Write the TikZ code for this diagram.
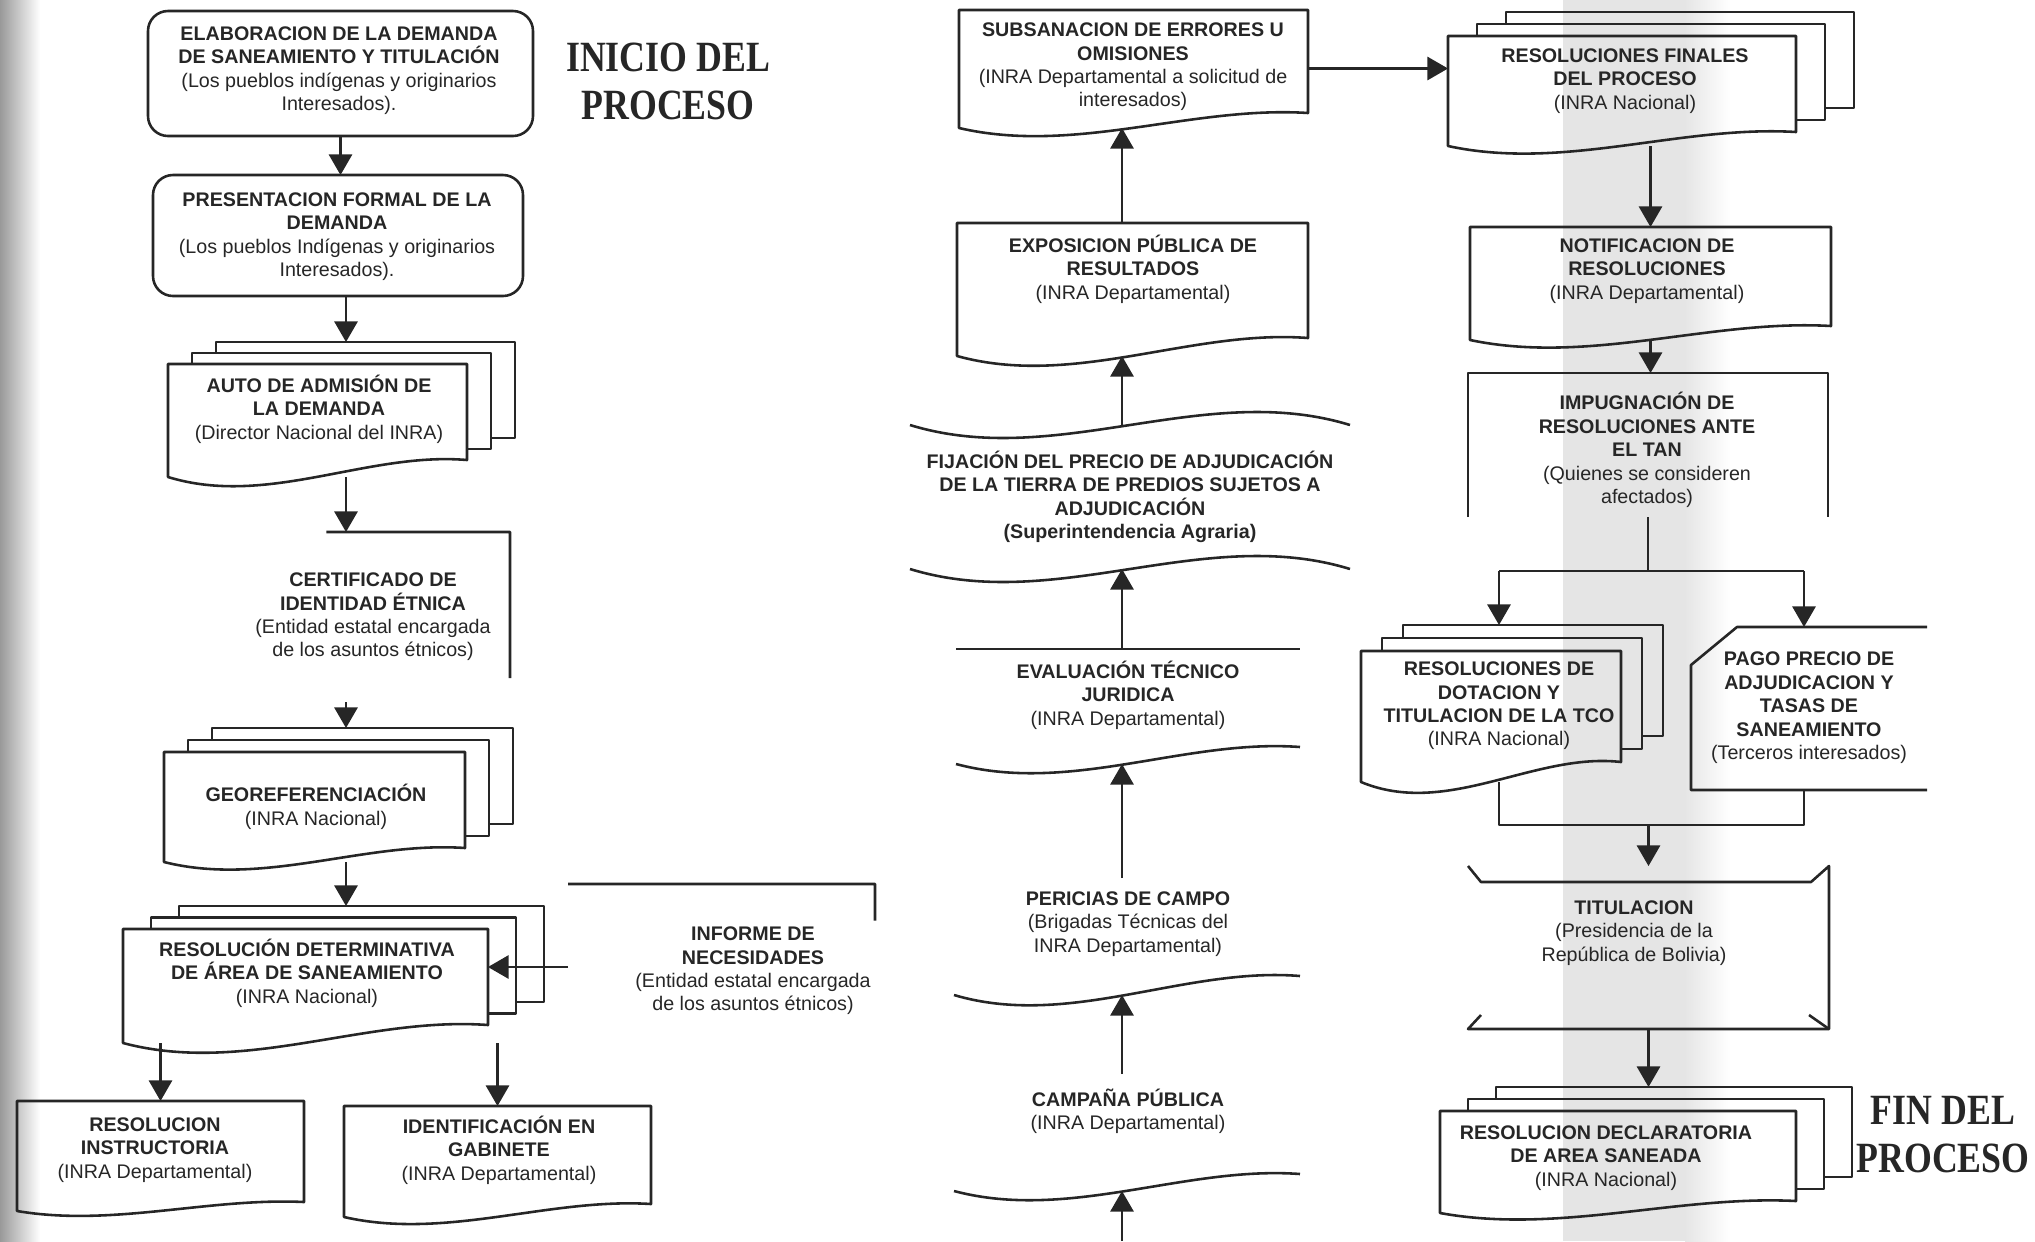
\documentclass[tikz,border=0pt]{standalone}
\usepackage{fontspec}
\setmainfont{Liberation Sans}
\newfontfamily\titlefont{Liberation Serif}
\usepackage{graphicx}
\usetikzlibrary{arrows.meta, calc}
\definecolor{inkgray}{RGB}{38,38,38}
\newcommand{\pu}{0.15mm}
\newcommand{\sq}[1]{\scalebox{0.83}[1]{#1}}
% document outline: straight top and sides, wavy bottom
\newcommand{\docline}[2]{%
  \draw[outl] (#1.south east) -- (#1.north east) -- (#1.north west) -- ($(#1.south west)+(0,#2)$)
    .. controls ($(#1.south west)!0.333!(#1.south east)+(0,{2.8*#2})$)
    and ($(#1.south west)!0.667!(#1.south east)+(0,{-0.5*#2})$) .. cycle;
  \coordinate (#1-b) at ($(#1.south)+(0,#2)$);
}
% only the wavy bottom of a document
\newcommand{\docwave}[2]{%
  \draw[outl] ($(#1.south west)+(0,#2)$)
    .. controls ($(#1.south west)!0.333!(#1.south east)+(0,{2.8*#2})$)
    and ($(#1.south west)!0.667!(#1.south east)+(0,{-0.5*#2})$) .. (#1.south east);
  \coordinate (#1-b) at ($(#1.south)+(0,#2)$);
}
% stacked documents
\newcommand{\multidoc}[4]{%
  \draw[outl] ($(#1.north west)+(#3,0)$) -- ($(#1.north west)+(#3,#4)$) -- ($(#1.north east)+(#3,#4)$)
    -- ($(#1.south east)+(#3,#4)$) -- ($(#1.south east)+(0,#4)$);
  \draw[outl] ($(#1.north west)+({2*#3},#4)$) -- ($(#1.north west)+({2*#3},{2*#4})$) -- ($(#1.north east)+({2*#3},{2*#4})$)
    -- ($(#1.south east)+({2*#3},{2*#4})$) -- ($(#1.south east)+(#3,{2*#4})$);
  \docline{#1}{#2}
  \coordinate (#1-top) at ($(#1.north)+(0,{2*#4})$);
}
% punched tape edge
\newcommand{\tapewave}[2]{%
  \draw[outl] (#1) .. controls ($(#1)!0.333!(#2)+(0,45)$) and ($(#1)!0.667!(#2)+(0,-45)$) .. (#2);
}

\begin{document}
\begin{tikzpicture}[x=\pu, y=-\pu,
  outl/.style={draw=inkgray, line width=1.1pt, line join=round},
  arr/.style={-{Triangle[length=3.1mm, width=3.5mm]}, draw=inkgray, line width=0.9pt},
  txt/.style={font=\fontsize{8.4}{10}\selectfont, align=center, inner sep=0pt, text=inkgray},
  ttl/.style={font=\titlefont\bfseries\fontsize{18.4}{20.5}\selectfont, align=center, inner sep=0pt, text=inkgray},
  shp/.style 2 args={minimum width=#1*\pu, minimum height=#2*\pu, inner sep=0pt, outer sep=0pt},
]
\useasboundingbox (0,0) rectangle (2035,1241);

%% scan shading
\shade[left color=black!40, right color=white] (0,0) rectangle (40,1241);
\fill[black!10] (1563,0) rectangle (1685,1241);
\shade[left color=black!10, right color=white] (1685,0) rectangle (1730,1241);

%% Left column
\node[shp={385}{125}, outl, rounded corners=3mm] (elab) at (340.5,73.5) {};
\node[txt] (elab-t) at (339,70.5) {\textbf{ELABORACION DE LA DEMANDA}\\\textbf{DE SANEAMIENTO Y TITULACIÓN}\\(Los pueblos indígenas y originarios\\Interesados).};
\node[ttl] (inicio) at (668,81) {\sq{INICIO DEL}\\\sq{PROCESO}};

\node[shp={370}{121}, outl, rounded corners=3mm] (pres) at (338,235.5) {};
\node[txt] (pres-t) at (337,236.5) {\textbf{PRESENTACION FORMAL DE LA}\\\textbf{DEMANDA}\\(Los pueblos Indígenas y originarios\\Interesados).};

\node[shp={299}{96}] (auto) at (317.5,412) {};
\multidoc{auto}{17}{24}{-11}
\node[txt] (auto-t) at (319,409) {\textbf{AUTO DE ADMISIÓN  DE}\\\textbf{LA DEMANDA}\\(Director Nacional del INRA)};

\node[shp={274}{170}] (cert) at (373,617) {};
\draw[outl] ($(cert.north west)!0.33!(cert.north east)$) -- (cert.north east) -- ($(cert.north east)!0.86!(cert.south east)$);
\node[txt] (cert-t) at (373,617) {\textbf{CERTIFICADO DE}\\\textbf{IDENTIDAD ÉTNICA}\\(Entidad estatal encargada\\de los asuntos étnicos)};

\node[shp={301}{96}] (geo) at (314.5,800) {};
\multidoc{geo}{14}{24}{-12}
\node[txt] (geo-t) at (316,807) {\textbf{GEOREFERENCIACIÓN}\\(INRA Nacional)};

\node[shp={365}{96}] (resdet) at (305.5,977) {};
\multidoc{resdet}{18}{28}{-11.5}
\node[txt] (resdet-t) at (307,973) {\textbf{RESOLUCIÓN DETERMINATIVA}\\\textbf{DE ÁREA DE SANEAMIENTO}\\(INRA Nacional)};

\node[shp={307}{166}] (informe) at (721.5,967) {};
\draw[outl] (informe.north west) -- (informe.north east) -- ($(informe.north east)!0.22!(informe.south east)$);
\node[txt] (informe-t) at (753,971) {\textbf{INFORME DE}\\\textbf{NECESIDADES}\\(Entidad estatal encargada\\de los asuntos étnicos)};

\node[shp={287}{101}] (resinst) at (160.5,1151.5) {};
\docline{resinst}{9}
\node[txt] (resinst-t) at (155,1150) {\textbf{RESOLUCION}\\\textbf{INSTRUCTORIA}\\(INRA Departamental)};

\node[shp={307}{98}] (idgab) at (497.5,1155) {};
\docline{idgab}{13}
\node[txt] (idgab-t) at (499,1150) {\textbf{IDENTIFICACIÓN EN}\\\textbf{GABINETE}\\(INRA Departamental)};

\coordinate (spineL) at (346,0);
\draw[arr] (elab.south) -- (elab.south |- pres.north);
\draw[arr] (pres.south -| spineL) -- (auto-top -| spineL);
\draw[arr] (auto-b -| spineL) -- (cert.north -| spineL);
\draw[arr] (cert.south -| spineL) -- (geo-top -| spineL);
\draw[arr] (geo-b -| spineL) -- (resdet-top -| spineL);
\draw[arr] (informe.west) -- (informe.west -| resdet.east);
\draw[arr] (resinst.north |- resdet-b) -- (resinst.north);
\draw[arr] (idgab.north |- resdet-b) -- (idgab.north);

%% Centre column
\node[shp={349}{103}] (subs) at (1133.5,61.5) {};
\docline{subs}{15}
\node[txt] (subs-t) at (1133,67) {\textbf{SUBSANACION DE ERRORES U}\\\textbf{OMISIONES}\\(INRA Departamental a solicitud de\\interesados)};

\node[shp={351}{115}] (expo) at (1132.5,280.5) {};
\docline{expo}{18}
\node[txt] (expo-t) at (1133,269) {\textbf{EXPOSICION PÚBLICA DE}\\\textbf{RESULTADOS}\\(INRA Departamental)};

\node[shp={440}{144}] (fij) at (1130,497) {};
\tapewave{fij.north west}{fij.north east}
\tapewave{fij.south west}{fij.south east}
\node[txt] (fij-t) at (1130,497) {\textbf{FIJACIÓN DEL PRECIO DE ADJUDICACIÓN}\\\textbf{DE LA TIERRA DE PREDIOS SUJETOS A}\\\textbf{ADJUDICACIÓN}\\\textbf{(Superintendencia Agraria)}};

\node[shp={344}{98}] (eval) at (1128,698) {};
\draw[outl] (eval.north west) -- (eval.north east);
\docwave{eval}{17}
\node[txt] (eval-t) at (1128,695) {\textbf{EVALUACIÓN TÉCNICO}\\\textbf{JURIDICA}\\(INRA Departamental)};

\node[shp={346}{98}] (peri) at (1127,927) {};
\docwave{peri}{19}
\node[txt] (peri-t) at (1128,924) {\textbf{PERICIAS DE CAMPO}\\(Brigadas Técnicas del\\INRA Departamental)};

\node[shp={346}{100}] (camp) at (1127,1124) {};
\docwave{camp}{17}
\node[txt] (camp-t) at (1128,1111) {\textbf{CAMPAÑA PÚBLICA}\\(INRA Departamental)};

\coordinate (cspine) at (1122,0);
\coordinate (fromprev) at (1122,1241);
\draw[arr] (fromprev) -- (fromprev |- camp-b);
\draw[arr] (camp.north -| cspine) -- (peri-b -| cspine);
\draw[arr] (peri.north -| cspine) -- (eval-b -| cspine);
\draw[arr] (eval.north -| cspine) -- (fij.south -| cspine);
\draw[arr] (fij.north -| cspine) -- (expo-b -| cspine);
\draw[arr] (expo.north -| cspine) -- (subs-b -| cspine);

%% Right column
\node[shp={348}{96}] (resfin) at (1622,84) {};
\multidoc{resfin}{14}{29}{-12}
\node[txt] (resfin-t) at (1625,81) {\textbf{RESOLUCIONES FINALES}\\\textbf{DEL PROCESO}\\(INRA Nacional)};

\node[shp={361}{99}] (notif) at (1650.5,276.5) {};
\docline{notif}{14}
\node[txt] (notif-t) at (1647,271) {\textbf{NOTIFICACION DE}\\\textbf{RESOLUCIONES}\\(INRA Departamental)};

\node[shp={360}{144}] (impug) at (1648,445) {};
\draw[outl] (impug.south west) -- (impug.north west) -- (impug.north east) -- (impug.south east);
\node[txt] (impug-t) at (1647,450) {\textbf{IMPUGNACIÓN DE}\\\textbf{RESOLUCIONES ANTE}\\\textbf{EL TAN}\\(Quienes se consideren\\afectados)};

\node[shp={260}{111}] (resdot) at (1491,706.5) {};
\multidoc{resdot}{20}{21}{-13}
\node[txt] (resdot-t) at (1499,706) {\textbf{RESOLUCIONES DE}\\\textbf{DOTACION Y}\\\textbf{TITULACION DE LA TCO}\\(INRA Nacional)};

\node[shp={236}{163}] (pago) at (1809,708.5) {};
\draw[outl] (pago.north east) -- ($(pago.north west)+(46,0)$) -- ($(pago.north west)+(0,38)$) -- (pago.south west) -- (pago.south east);
\node[txt] (pago-t) at (1809,708) {\textbf{PAGO PRECIO DE}\\\textbf{ADJUDICACION Y}\\\textbf{TASAS DE}\\\textbf{SANEAMIENTO}\\(Terceros interesados)};

\node[shp={361}{163}] (tit) at (1648.5,947.5) {};
\draw[outl] (tit.north west) -- ++(13,16) -- ($(tit.north east)+(-18,16)$) -- (tit.north east) -- (tit.south east) -- (tit.south west) -- ++(13,-14);
\draw[outl] (tit.south east) -- ++(-20,-14);
\node[txt] (tit-t) at (1634,933) {\textbf{TITULACION}\\(Presidencia de la\\República de Bolivia)};

\node[shp={356}{90}] (resdecl) at (1618,1156) {};
\multidoc{resdecl}{12}{28}{-12}
\node[txt] (resdecl-t) at (1606,1158) {\textbf{RESOLUCION DECLARATORIA}\\\textbf{DE AREA SANEADA}\\(INRA Nacional)};
\node[ttl] (fin) at (1943,1135) {\sq{FIN DEL}\\\sq{PROCESO}};

\coordinate (sub-out) at ($(subs.east)+(0,7)$);
\draw[arr] (sub-out) -- (sub-out -| resfin.west);
\draw[arr] (notif.north |- resfin-b) -- (notif.north);
\draw[arr] (notif-b) -- (notif-b |- impug.north);

\coordinate (splitL) at (1499,571);
\coordinate (splitR) at (1804,571);
\draw[outl] (impug.south) -- (impug.south |- splitL);
\draw[outl] (splitL) -- (splitR);
\draw[arr] (splitL) -- (splitL |- resdot-top);
\draw[arr] (splitR) -- (splitR |- pago.north);

\coordinate (mergeL) at (1499,825);
\coordinate (mergeR) at (1804,825);
\draw[outl] (mergeL |- resdot-b) -- (mergeL) -- (mergeR) -- (mergeR |- pago.south);
\draw[arr] (tit.north |- mergeL) -- (tit.north);
\draw[arr] (tit.south) -- (tit.south |- resdecl-top);

\end{tikzpicture}
\end{document}
